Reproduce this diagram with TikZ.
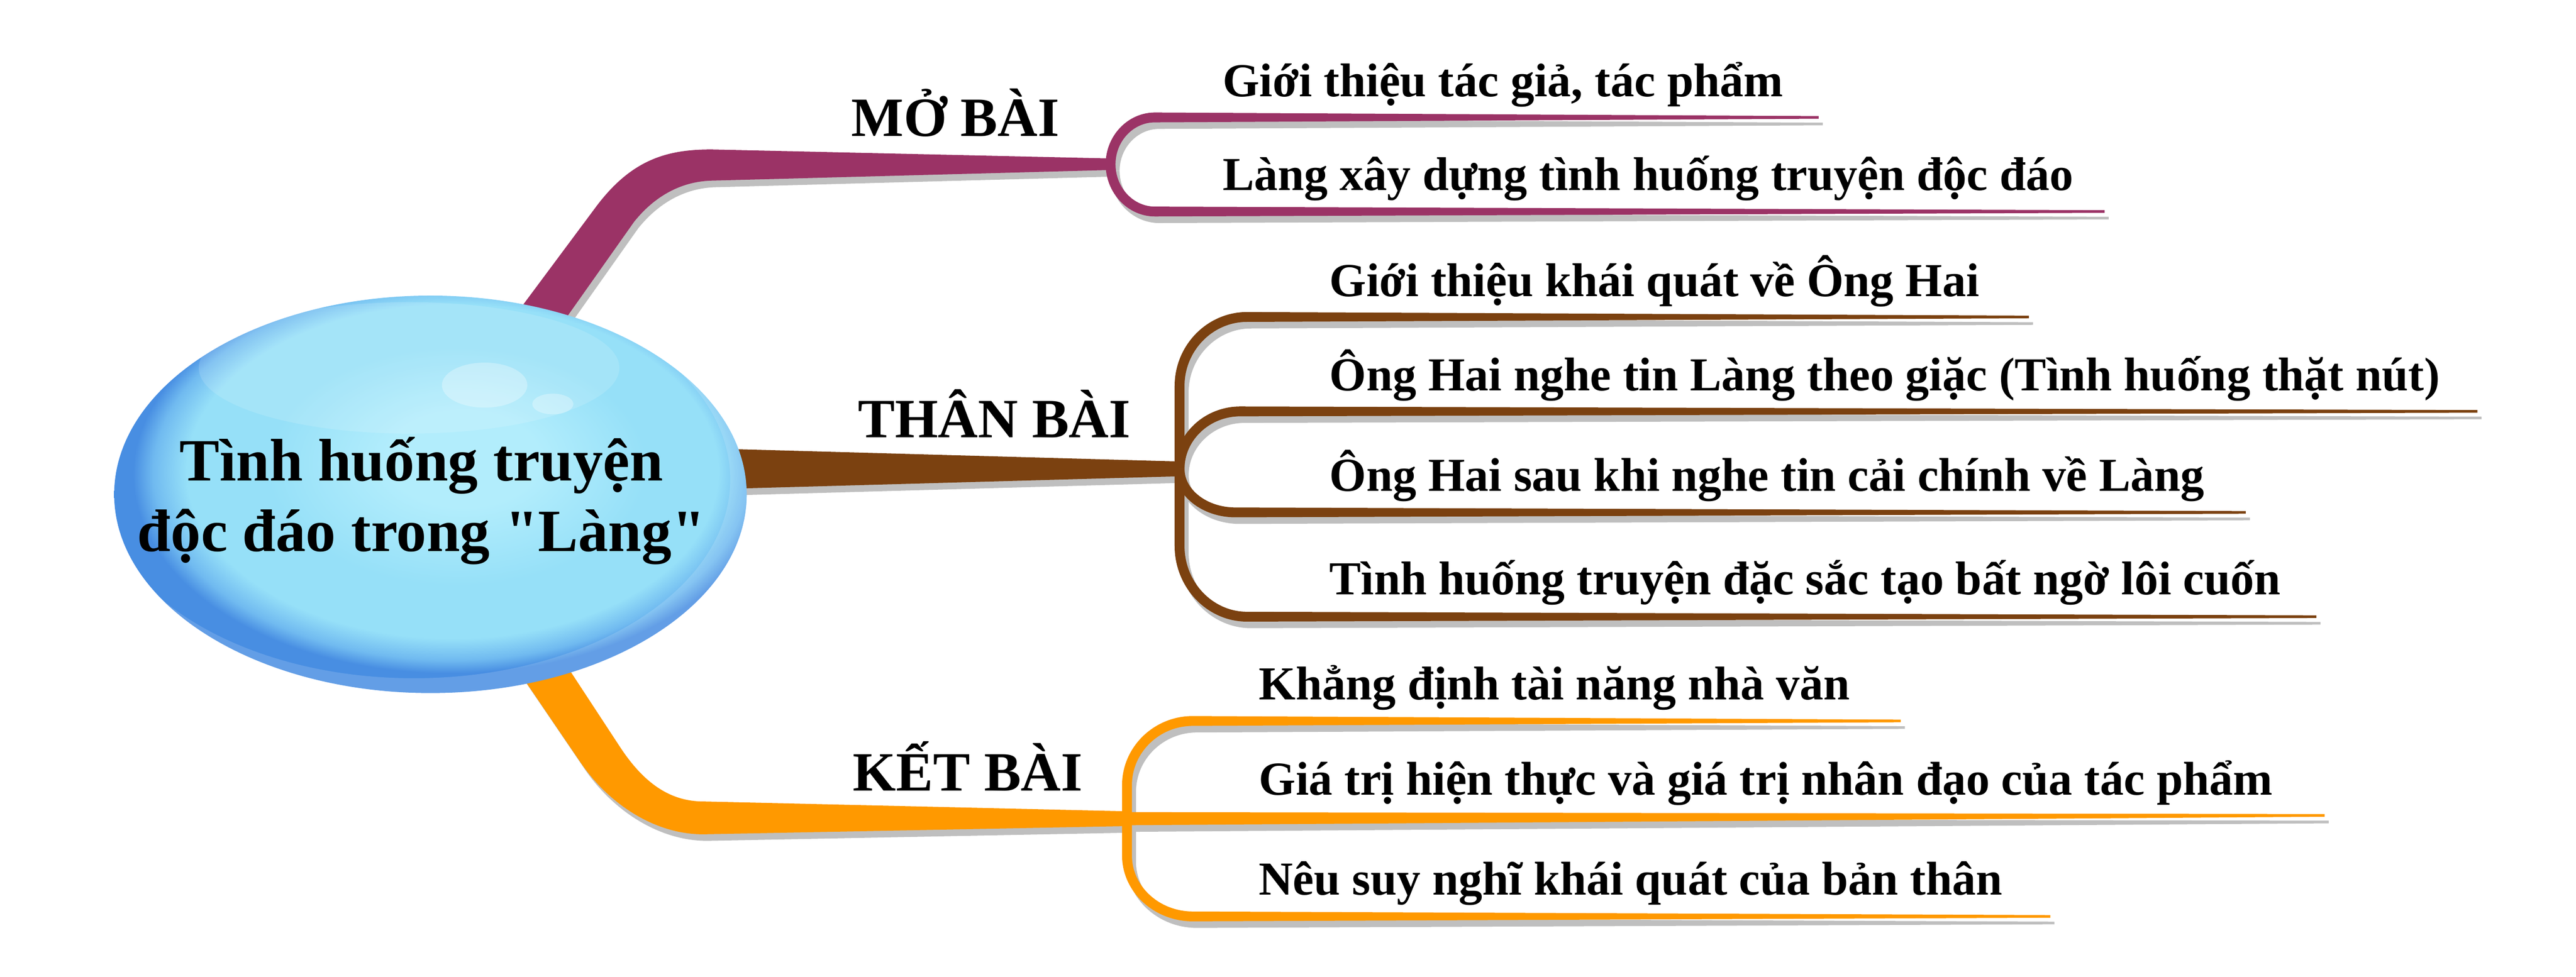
\documentclass[tikz,border=0pt]{standalone}
\usepackage{fontspec}
\setmainfont{Liberation Serif}
\usetikzlibrary{calc}

\definecolor{lila}{RGB}{155,51,102}
\definecolor{braun}{RGB}{123,65,16}
\definecolor{orangeast}{RGB}{255,153,0}
\definecolor{schatten}{RGB}{191,191,191}
\definecolor{kugelhell}{RGB}{178,237,252}
\definecolor{kugelmitte}{RGB}{150,224,248}
\definecolor{kugelrand}{RGB}{112,186,240}
\definecolor{kugeldunkel}{RGB}{72,142,226}

\pgfdeclareradialshading{kugel}{\pgfpoint{3bp}{5bp}}{%
  color(0bp)=(kugelhell); color(6bp)=(kugelhell); color(15bp)=(kugelmitte); color(21bp)=(kugelmitte);
  color(23.5bp)=(kugelrand); color(25bp)=(kugeldunkel); color(50bp)=(kugeldunkel)}

\tikzset{
	ast/.style={fill=#1},
	kern/.style={font=\bfseries\fontsize{26}{30.5}\selectfont, align=center, inner sep=0pt},
	haupt/.style={font=\bfseries\fontsize{24}{28}\selectfont, anchor=base west, inner sep=0pt},
	punkt/.style={font=\bfseries\fontsize{20.5}{24}\selectfont, anchor=base west, inner sep=0pt}
}

% Unterast: Farbe, Knoten, Ende, Richtung (-1 hoch, 1 runter), Radius y, Radius x
\newcommand{\unterast}[6]{%
	\fill[ast=#1]
		($(#2)+(-3,0)$) -- ($(#2|-#3)+(-3,{-(#4)*#5})$)
		.. controls ($(#2|-#3)+(-3,{(#4)*(0.55*(#5+3)-#5)})$) and ($(#2|-#3)+({#6-0.55*(#6+3)},{3*(#4)})$)
		.. ($(#2|-#3)+(#6,{3*(#4)})$)
		-- ($(#3)+(0,{0.8*(#4)})$) -- ($(#3)+(0,{-0.8*(#4)})$)
		-- ($(#2|-#3)+(#6,{-3*(#4)})$)
		.. controls ($(#2|-#3)+({#6-0.55*(#6-3)},{-3*(#4)})$) and ($(#2|-#3)+(3,{(#4)*(0.55*(#5-3)-#5)})$)
		.. ($(#2|-#3)+(3,{-(#4)*#5})$)
		-- ($(#2)+(3,0)$) -- cycle;
}

% alle Aeste
\newcommand{\aeste}{%
	% Hauptaeste
	\fill[ast=lila] (304.7,204) -- (362,127) .. controls (384,97) and (406,91) .. (433,91)
		-- ($(lilaK)+(0,-3.5)$) -- ($(lilaK)+(0,3.5)$)
		-- (433,110) .. controls (414,110.5) and (398,120) .. (386,135) -- (332.6,210.6) -- cycle;
	\fill[ast=braun] (430,273) -- ($(braunK)+(0,-4.5)$) -- ($(braunK)+(0,4.5)$) -- (430,298) -- cycle;
	\fill[ast=orangeast] (308,397.5) -- (353,463.7) .. controls (370,489) and (398,508) .. (428,508)
		-- ($(orangeK)+(0,4.5)$) -- ($(orangeK)+(0,-4.5)$)
		-- (428,488) .. controls (408,488) and (392,477) .. (377.5,455) -- (336.2,392) -- cycle;
	% Unteraeste
	\unterast{lila}{lilaK}{p1e}{-1}{28.5}{27}
	\unterast{lila}{lilaK}{p2e}{1}{28.8}{27}
	\unterast{braun}{braunK}{b1e}{-1}{42}{41}
	\unterast{braun}{braunK}{b2e}{-1}{35}{37}
	\unterast{braun}{braunK}{b3e}{1}{26.5}{34}
	\unterast{braun}{braunK}{b4e}{1}{43}{41}
	\unterast{orangeast}{orangeK}{o1e}{-1}{39}{40}
	\fill[ast=orangeast] ($(orangeK)+(0,-4)$) -- ($(o2e)+(0,-0.8)$) -- ($(o2e)+(0,0.8)$) -- ($(orangeK)+(0,4)$) -- cycle;
	\unterast{orangeast}{orangeK}{o3e}{1}{37}{40}
}

\begin{document}
\begin{tikzpicture}[x=0.25mm, y=-0.25mm]
	\useasboundingbox (0,0) rectangle (1568,594.7);

	% Knotenpunkte und Enden
	\coordinate (lilaK) at (676,100);
	\coordinate (braunK) at (718,285.5);
	\coordinate (orangeK) at (686,498.5);
	\coordinate (p1e) at (1107,71.5);
	\coordinate (p2e) at (1281,128.8);
	\coordinate (b1e) at (1235,193);
	\coordinate (b2e) at (1508,250.5);
	\coordinate (b3e) at (1367,312);
	\coordinate (b4e) at (1410,375.5);
	\coordinate (o1e) at (1157,439);
	\coordinate (o2e) at (1415,496.5);
	\coordinate (o3e) at (1248,558);

	% Schatten
	\begin{scope}[transform canvas={shift={(2.5,4)}}, ast/.style={fill=schatten}]
		\aeste
	\end{scope}
	% Aeste
	\aeste

	% Kugel zeichnen
	\shade[shading=kugel] (262,301) ellipse (192.5 and 121);
	\fill[white, opacity=.14] (249,224) ellipse (128 and 40);
	\fill[white, opacity=.3] (295,234.5) ellipse (26 and 13.7);
	\fill[white, opacity=.3] (336.5,246) ellipse (12.5 and 6.3);
	\begin{scope}
		\clip (262,301) ellipse (192.5 and 121);
		\fill[white, opacity=.15, even odd rule] (262,301) ellipse (192.5 and 121) (252,292) ellipse (192.5 and 121);
	\end{scope}
	\node[kern] (kern) at (256.5,305) {Tình huống truyện\\độc đáo trong \textquotedbl Làng\textquotedbl};

	% Hauptthemen
	\node[haupt] (mo) at (518,83) {MỞ BÀI};
	\node[haupt] (than) at (522,266.5) {THÂN BÀI};
	\node[haupt] (ket) at (519,481.6) {KẾT BÀI};

	% Unterpunkte
	\node[punkt] (p1) at (744,58.7) {Giới thiệu tác giả, tác phẩm};
	\node[punkt] (p2) at (744,116) {Làng xây dựng tình huống truyện độc đáo};
	\node[punkt] (b1) at (809,180.6) {Giới thiệu khái quát về Ông Hai};
	\node[punkt] (b2) at (809,238) {Ông Hai nghe tin Làng theo giặc (Tình huống thặt nút)};
	\node[punkt] (b3) at (809,299) {Ông Hai sau khi nghe tin cải chính về Làng};
	\node[punkt] (b4) at (809,362) {Tình huống truyện đặc sắc tạo bất ngờ lôi cuốn};
	\node[punkt] (o1) at (766,426) {Khẳng định tài năng nhà văn};
	\node[punkt] (o2) at (766,484) {Giá trị hiện thực và giá trị nhân đạo của tác phẩm};
	\node[punkt] (o3) at (766,545) {Nêu suy nghĩ khái quát của bản thân};
\end{tikzpicture}
\end{document}
